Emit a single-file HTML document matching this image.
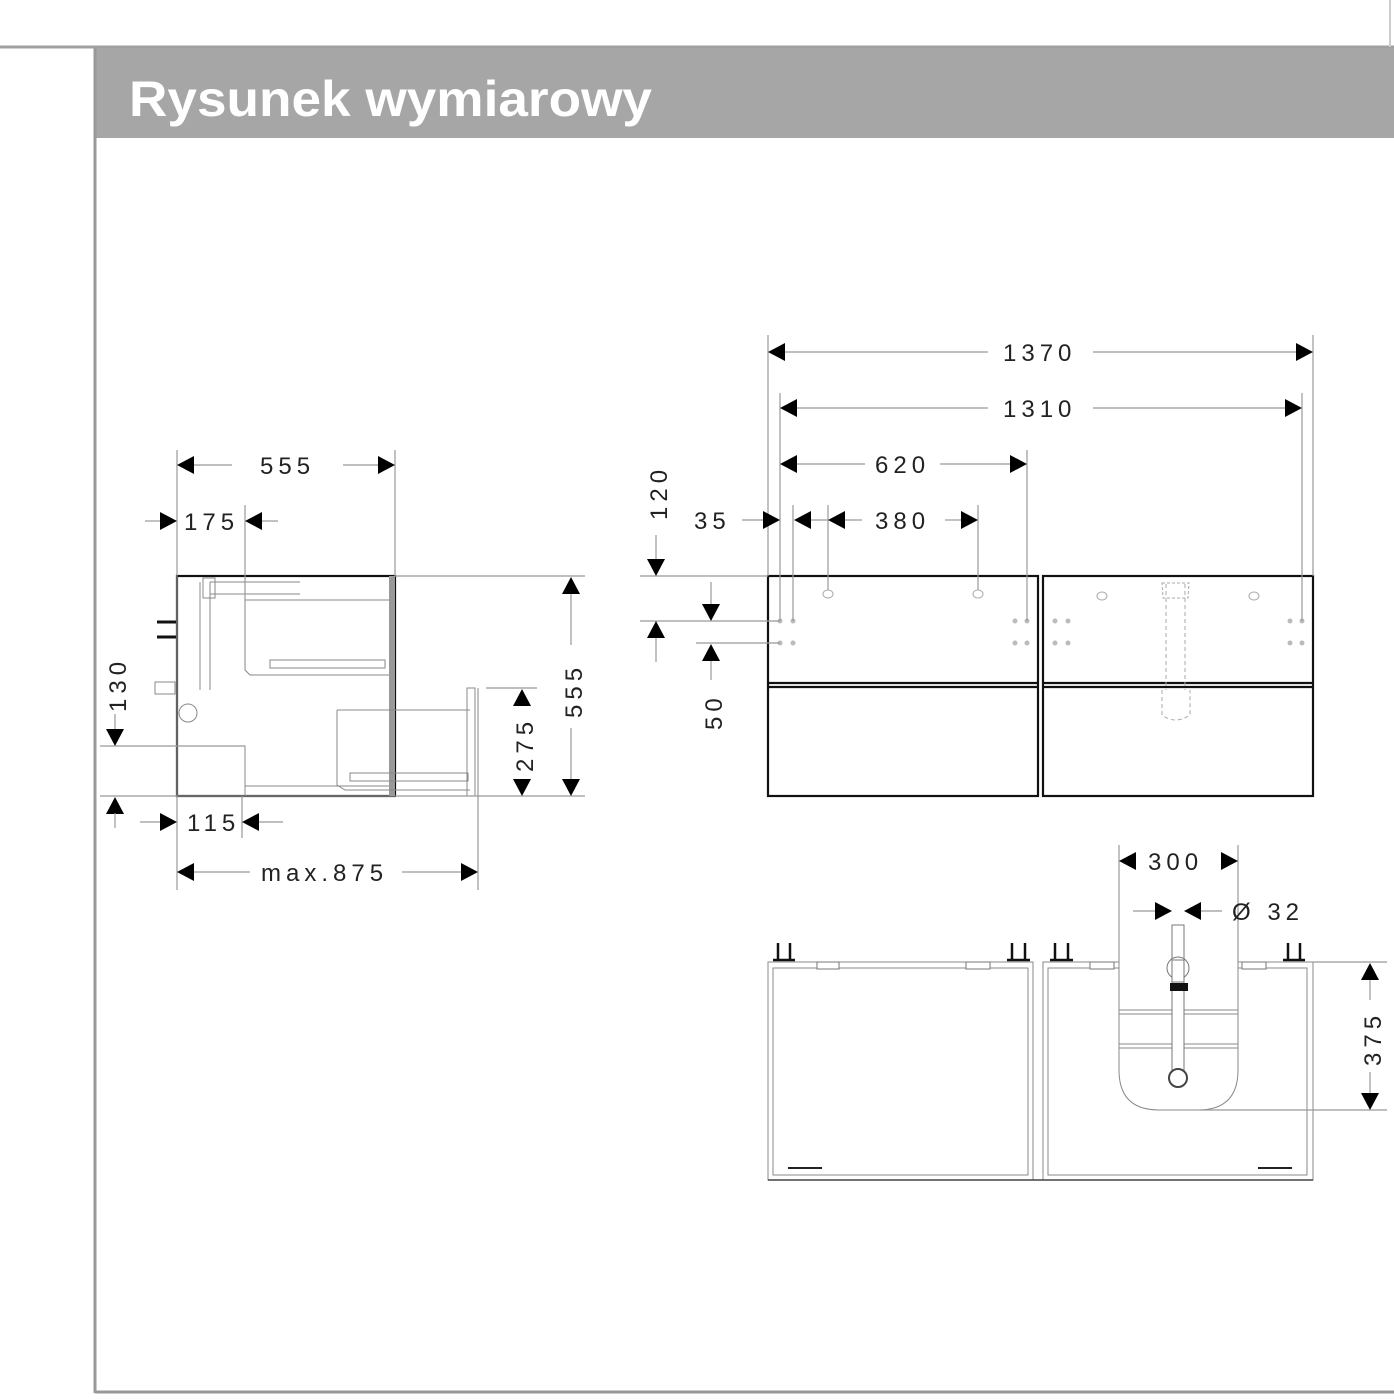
<!DOCTYPE html>
<html><head><meta charset="utf-8"><style>
html,body{margin:0;padding:0;background:#fff;}
svg{display:block;}
.t{font-family:"Liberation Sans",sans-serif;font-size:24px;fill:#222;letter-spacing:5px;}
.d{stroke:#999;stroke-width:1.2;fill:none;}
.k{stroke:#111;stroke-width:2.2;fill:none;}
.g{stroke:#888;stroke-width:1;fill:none;}
</style></head><body>
<svg width="1394" height="1400" viewBox="0 0 1394 1400" xmlns="http://www.w3.org/2000/svg">
<defs>
<polygon id="aL" points="0,0 17,-9 17,9" fill="#000"/>
<polygon id="aR" points="0,0 -17,-9 -17,9" fill="#000"/>
<polygon id="aU" points="0,0 -9,17 9,17" fill="#000"/>
<polygon id="aD" points="0,0 -9,-17 9,-17" fill="#000"/>
</defs>
<!-- frame -->
<line x1="0" y1="47" x2="1394" y2="47" stroke="#a0a0a0" stroke-width="3"/>
<line x1="1390" y1="0" x2="1390" y2="47" stroke="#ccc" stroke-width="2"/>
<rect x="94" y="48" width="1300" height="90" fill="#a6a6a6"/>
<line x1="95" y1="48" x2="95" y2="1393" stroke="#999" stroke-width="3"/>
<line x1="95" y1="1392" x2="1394" y2="1392" stroke="#999" stroke-width="3"/>
<text x="129" y="116" font-family="Liberation Sans,sans-serif" font-weight="bold" font-size="50" fill="#fff" textLength="523" lengthAdjust="spacingAndGlyphs">Rysunek wymiarowy</text>

<!-- ===== LEFT SIDE VIEW ===== -->
<g>
<rect x="177" y="576" width="218" height="220" class="k" stroke-width="1.8"/>
<rect x="389" y="576" width="6" height="220" fill="#999"/>
<polyline points="177,746 245,746 245,796" class="g"/>
<polyline points="245,600 389,600" class="g"/>
<polyline points="245,600 245,670 250,675 389,675" class="g"/>
<rect x="270" y="660" width="115" height="8" class="g"/>
<polyline points="337,710 470,710" class="g"/>
<polyline points="337,710 337,785 345,790 470,790" class="g"/>
<rect x="350" y="773" width="118" height="8" class="g"/>
<rect x="467" y="688" width="8" height="108" class="g"/>
<line x1="245" y1="786" x2="389" y2="786" class="g"/>
<path d="M200,582 L200,690 M210,582 L210,690 M210,582 L300,582 M210,594 L300,594" class="g"/>
<rect x="203" y="578" width="12" height="20" class="g"/>
<rect x="155" y="682" width="20" height="12" class="g"/>
<circle cx="188" cy="713" r="9" class="g"/>
<line x1="157" y1="622" x2="176" y2="622" stroke="#111" stroke-width="3"/>
<line x1="157" y1="637" x2="176" y2="637" stroke="#111" stroke-width="3"/>
<!-- dims -->
<line x1="177" y1="450" x2="177" y2="890" class="d"/>
<line x1="395" y1="450" x2="395" y2="576" class="d"/>
<line x1="193" y1="465" x2="232" y2="465" class="d"/><line x1="343" y1="465" x2="378" y2="465" class="d"/>
<use href="#aL" x="177" y="465"/><use href="#aR" x="395" y="465"/>
<text x="260" y="474" class="t">555</text>
<line x1="245" y1="505" x2="245" y2="668" class="d"/>
<line x1="145" y1="521" x2="160" y2="521" class="d"/><line x1="262" y1="521" x2="278" y2="521" class="d"/>
<use href="#aR" x="177" y="521"/><use href="#aL" x="245" y="521"/>
<text x="184" y="530" class="t">175</text>
<line x1="100" y1="746" x2="245" y2="746" class="d"/>
<line x1="100" y1="796" x2="585" y2="796" class="d"/>
<line x1="115" y1="714" x2="115" y2="730" class="d"/>
<use href="#aD" x="115" y="746"/><use href="#aU" x="115" y="797"/>
<line x1="115" y1="813" x2="115" y2="828" class="d"/>
<text class="t" transform="translate(126,712) rotate(-90)">130</text>
<line x1="242" y1="796" x2="242" y2="838" class="d"/>
<line x1="140" y1="822" x2="160" y2="822" class="d"/><line x1="259" y1="822" x2="283" y2="822" class="d"/>
<use href="#aR" x="177" y="822"/><use href="#aL" x="242" y="822"/>
<text x="187" y="831" class="t">115</text>
<line x1="478" y1="688" x2="478" y2="890" class="d"/>
<line x1="193" y1="872" x2="250" y2="872" class="d"/><line x1="402" y1="872" x2="462" y2="872" class="d"/>
<use href="#aL" x="177" y="872"/><use href="#aR" x="478" y="872"/>
<text x="261" y="881" class="t" font-size="22">max.875</text>
<line x1="395" y1="576" x2="585" y2="576" class="d"/>
<use href="#aU" x="571" y="577"/><use href="#aD" x="571" y="796"/>
<line x1="571" y1="594" x2="571" y2="645" class="d"/><line x1="571" y1="728" x2="571" y2="779" class="d"/>
<text class="t" transform="translate(582,718) rotate(-90)">555</text>
<line x1="486" y1="688" x2="537" y2="688" class="d"/>
<use href="#aU" x="522" y="689"/><use href="#aD" x="522" y="796"/>
<text class="t" transform="translate(533,772) rotate(-90)">275</text>
</g>

<!-- ===== FRONT VIEW ===== -->
<g>
<rect x="768" y="576" width="270" height="220" class="k"/>
<rect x="1043" y="576" width="270" height="220" class="k"/>
<line x1="768" y1="683" x2="1038" y2="683" class="k"/><line x1="768" y1="687" x2="1038" y2="687" class="k"/>
<line x1="1043" y1="683" x2="1313" y2="683" class="k"/><line x1="1043" y1="687" x2="1313" y2="687" class="k"/>
<g fill="none" stroke="#aaa" stroke-width="1">
<ellipse cx="828" cy="594" rx="5" ry="4"/><ellipse cx="978" cy="594" rx="5" ry="4"/>
<ellipse cx="1102" cy="596" rx="5" ry="4"/><ellipse cx="1254" cy="596" rx="5" ry="4"/>
<path d="M1166,584 L1166,690 M1185,584 L1185,690" stroke-dasharray="4,3"/>
<path d="M1162,690 L1162,715 Q1175,725 1190,715 L1190,690" stroke-dasharray="4,3"/>
<path d="M1162,583 L1189,583 L1188,598 L1163,598 Z" stroke-dasharray="3,2"/>
</g>
<g fill="#bbb">
<circle cx="780" cy="621" r="2.5"/><circle cx="793" cy="621" r="2.5"/><circle cx="1015" cy="621" r="2.5"/><circle cx="1027" cy="621" r="2.5"/>
<circle cx="780" cy="643" r="2.5"/><circle cx="793" cy="643" r="2.5"/><circle cx="1015" cy="643" r="2.5"/><circle cx="1027" cy="643" r="2.5"/>
<circle cx="1055" cy="621" r="2.5"/><circle cx="1068" cy="621" r="2.5"/><circle cx="1290" cy="621" r="2.5"/><circle cx="1302" cy="621" r="2.5"/>
<circle cx="1055" cy="643" r="2.5"/><circle cx="1068" cy="643" r="2.5"/><circle cx="1290" cy="643" r="2.5"/><circle cx="1302" cy="643" r="2.5"/>
</g>
<line x1="768" y1="335" x2="768" y2="576" class="d"/><line x1="1313" y1="335" x2="1313" y2="576" class="d"/>
<line x1="785" y1="352" x2="988" y2="352" class="d"/><line x1="1093" y1="352" x2="1296" y2="352" class="d"/>
<use href="#aL" x="768" y="352"/><use href="#aR" x="1313" y="352"/>
<text x="1003" y="361" class="t">1370</text>
<line x1="780" y1="393" x2="780" y2="621" class="d"/><line x1="1302" y1="393" x2="1302" y2="621" class="d"/>
<line x1="797" y1="408" x2="988" y2="408" class="d"/><line x1="1093" y1="408" x2="1285" y2="408" class="d"/>
<use href="#aL" x="780" y="408"/><use href="#aR" x="1302" y="408"/>
<text x="1003" y="417" class="t">1310</text>
<line x1="1027" y1="450" x2="1027" y2="621" class="d"/>
<line x1="797" y1="464" x2="865" y2="464" class="d"/><line x1="940" y1="464" x2="1010" y2="464" class="d"/>
<use href="#aL" x="780" y="464"/><use href="#aR" x="1027" y="464"/>
<text x="875" y="473" class="t">620</text>
<line x1="793" y1="505" x2="793" y2="621" class="d"/>
<line x1="828" y1="505" x2="828" y2="590" class="d"/><line x1="978" y1="505" x2="978" y2="590" class="d"/>
<line x1="742" y1="520" x2="763" y2="520" class="d"/>
<use href="#aR" x="780" y="520"/><use href="#aL" x="794" y="520"/>
<line x1="811" y1="520" x2="828" y2="520" class="d"/>
<use href="#aL" x="828" y="520"/><use href="#aR" x="978" y="520"/>
<line x1="845" y1="520" x2="862" y2="520" class="d"/><line x1="945" y1="520" x2="961" y2="520" class="d"/>
<text x="694" y="529" class="t">35</text>
<text x="875" y="529" class="t">380</text>
<line x1="640" y1="576" x2="768" y2="576" class="d"/>
<line x1="656" y1="535" x2="656" y2="560" class="d"/>
<use href="#aD" x="656" y="576"/>
<text class="t" transform="translate(667,520) rotate(-90)">120</text>
<line x1="640" y1="621" x2="780" y2="621" class="d"/>
<line x1="696" y1="643" x2="780" y2="643" class="d"/>
<use href="#aU" x="656" y="621"/><line x1="656" y1="638" x2="656" y2="662" class="d"/>
<line x1="711" y1="582" x2="711" y2="605" class="d"/><use href="#aD" x="711" y="621"/>
<use href="#aU" x="711" y="644"/><line x1="711" y1="661" x2="711" y2="680" class="d"/>
<text class="t" transform="translate(722,730) rotate(-90)">50</text>
</g>

<!-- ===== TOP VIEW ===== -->
<g>
<rect x="768" y="962" width="265" height="218" class="g" stroke="#555"/>
<rect x="773" y="968" width="255" height="207" class="g" stroke="#555"/>
<rect x="1043" y="962" width="270" height="218" class="g" stroke="#555"/>
<rect x="1048" y="968" width="259" height="207" class="g" stroke="#555"/>
<line x1="768" y1="1180" x2="1313" y2="1180" stroke="#444" stroke-width="1.5"/>
<line x1="788" y1="1168" x2="822" y2="1168" stroke="#222" stroke-width="2"/>
<line x1="1258" y1="1168" x2="1292" y2="1168" stroke="#222" stroke-width="2"/>
<path d="M1119,962 L1119,1070 Q1119,1110 1159,1110 L1198,1110 Q1238,1110 1238,1070 L1238,962" fill="#fff" stroke="#888" stroke-width="1"/>
<rect x="1119.5" y="960" width="118" height="9" fill="#fff"/>
<line x1="1119" y1="1044" x2="1238" y2="1044" class="g"/><line x1="1119" y1="1048" x2="1238" y2="1048" class="g"/>
<line x1="1119" y1="1010" x2="1238" y2="1010" class="g"/><line x1="1119" y1="1014" x2="1238" y2="1014" class="g"/>
<rect x="1172" y="925" width="12" height="145" fill="#fff" stroke="#777"/>
<circle cx="1178" cy="968" r="11" fill="#fff" stroke="#777"/>
<rect x="1172" y="960" width="12" height="22" fill="#fff" stroke="#777"/>
<rect x="1170" y="983" width="18" height="8" fill="#111"/>
<circle cx="1178" cy="1078" r="9" fill="#fff" stroke="#444" stroke-width="2"/>
<g fill="#fff" stroke="#777">
<rect x="817" y="962" width="22" height="7"/><rect x="966" y="962" width="24" height="7"/>
<rect x="1090" y="962" width="24" height="7"/><rect x="1242" y="962" width="24" height="7"/>
</g>
<g stroke="#111" stroke-width="2.5">
<line x1="778" y1="943" x2="778" y2="960"/><line x1="790" y1="943" x2="790" y2="960"/>
<line x1="1012" y1="943" x2="1012" y2="960"/><line x1="1025" y1="943" x2="1025" y2="960"/>
<line x1="1055" y1="943" x2="1055" y2="960"/><line x1="1068" y1="943" x2="1068" y2="960"/>
<line x1="1288" y1="943" x2="1288" y2="960"/><line x1="1300" y1="943" x2="1300" y2="960"/>
<line x1="773" y1="960" x2="795" y2="960"/><line x1="1007" y1="960" x2="1030" y2="960"/>
<line x1="1050" y1="960" x2="1073" y2="960"/><line x1="1283" y1="960" x2="1305" y2="960"/>
</g>
<line x1="1119" y1="845" x2="1119" y2="962" class="d"/><line x1="1238" y1="845" x2="1238" y2="962" class="d"/>
<use href="#aL" x="1119" y="861"/><use href="#aR" x="1238" y="861"/>
<text x="1148" y="870" class="t">300</text>
<line x1="1133" y1="911" x2="1155" y2="911" class="d"/><line x1="1201" y1="911" x2="1222" y2="911" class="d"/>
<use href="#aR" x="1172" y="911"/><use href="#aL" x="1184" y="911"/>
<text x="1232" y="920" class="t">Ø 32</text>
<line x1="1313" y1="962" x2="1387" y2="962" class="d"/><line x1="1200" y1="1110" x2="1387" y2="1110" class="d"/>
<use href="#aU" x="1370" y="963"/><use href="#aD" x="1370" y="1110"/>
<line x1="1370" y1="980" x2="1370" y2="1000" class="d"/><line x1="1370" y1="1072" x2="1370" y2="1093" class="d"/>
<text class="t" transform="translate(1381,1066) rotate(-90)">375</text>
</g>
</svg>
</body></html>
